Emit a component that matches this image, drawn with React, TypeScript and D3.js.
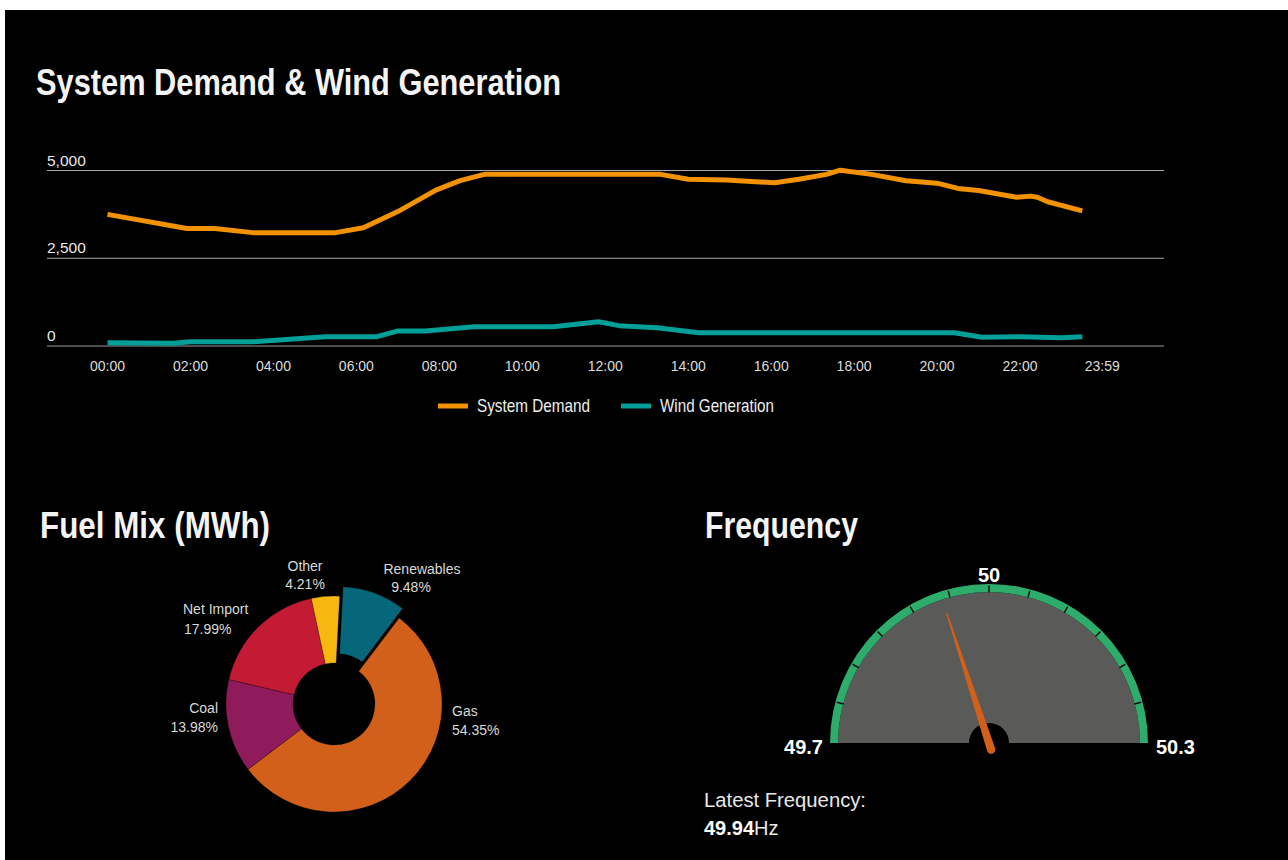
import React from "react";
import * as d3 from "d3";

// ---------- DATA ----------
const demandTimes = ["00:00","01:55","02:35","03:30","05:30","06:10","07:00","07:55","08:30","09:05","13:20","14:00","14:55","16:05","16:40","17:20","17:40","18:25","19:15","20:00","20:30","21:00","21:55","22:15","22:25","22:40","23:30"];
const demandValues = [3750,3350,3350,3230,3230,3370,3830,4440,4710,4890,4890,4750,4730,4650,4750,4890,5010,4890,4710,4640,4490,4430,4240,4270,4240,4110,3850];

const windTimes = ["00:00","01:35","02:00","03:30","05:15","06:30","07:00","07:40","08:50","10:45","11:50","12:20","13:15","14:15","20:25","21:05","22:00","23:00","23:30"];
const windValues = [90,80,120,120,265,265,430,430,550,550,690,580,520,380,380,250,265,235,265];

const xTickLabels = ["00:00","02:00","04:00","06:00","08:00","10:00","12:00","14:00","16:00","18:00","20:00","22:00","23:59"];
const yTickValues = [0, 2500, 5000];
const seriesNames = ["System Demand", "Wind Generation"];

const fuelNames = ["Renewables", "Gas", "Coal", "Net Import", "Other"];
const fuelShares = [9.48, 54.35, 13.98, 17.99, 4.21];
const fuelColors = ["#07677a", "#d2601a", "#8f1a5c", "#c41b35", "#f6b80f"];

const freqMin = 49.7;
const freqMax = 50.3;
const freqMid = 50;
const freqStep = 0.05;
const freqLatest = 49.94;

// ---------- STYLE / LAYOUT ----------
const SANS = "'Liberation Sans', Arial, Helvetica, sans-serif";
const C_DEMAND = "#f39200";
const C_WIND = "#009f98";

const toHours = (t: string) => {
  const [h, m] = t.split(":").map(Number);
  return h + m / 60;
};

// pie label layout relative to pie center: [dx, dy] for line1 and line2, anchor
const PIE_LABELS: Record<string, { a: string; l1: [number, number]; l2: [number, number] }> = {
  Renewables: { a: "middle", l1: [88, -130], l2: [77, -112] },
  Gas: { a: "start", l1: [118, 12], l2: [118, 31] },
  Coal: { a: "end", l1: [-116, 9], l2: [-116, 28] },
  "Net Import": { a: "start", l1: [-151, -90], l2: [-150, -70] },
  Other: { a: "middle", l1: [-29, -133], l2: [-29, -115] },
};

// condensed bold heading: Liberation Sans squeezed to the measured width
function Heading({ x, y, w, children }: { x: number; y: number; w: number; children: string }) {
  return (
    <text
      x={x}
      y={y}
      fill="#f4f4f4"
      fontFamily={SANS}
      fontWeight="bold"
      fontSize={37}
      textLength={w}
      lengthAdjust="spacingAndGlyphs"
    >
      {children}
    </text>
  );
}

export default function App() {
  // line chart
  const x = d3.scaleLinear().domain([0, 24]).range([107.5, 107.5 + 24 * 41.48]);
  const y = d3.scaleLinear().domain([0, 5000]).range([346, 170.5]);
  const line = d3
    .line<[number, number]>()
    .x((d) => x(d[0]))
    .y((d) => y(d[1]));
  const demandPts: [number, number][] = demandTimes.map((t, i) => [toHours(t), demandValues[i]]);
  const windPts: [number, number][] = windTimes.map((t, i) => [toHours(t), windValues[i]]);

  // pie
  const pcx = 334, pcy = 704, rOut = 108, rIn = 41;
  const a0 = (3 * Math.PI) / 180;
  const pie = d3.pie<number>().sort(null).startAngle(a0).endAngle(a0 + 2 * Math.PI);
  const arcs = pie(fuelShares);
  const arcGen = d3.arc<d3.PieArcDatum<number>>().innerRadius(rIn).outerRadius(rOut);

  // gauge
  const gcx = 989, gcy = 743, gR = 159, gBand = 8;
  const ang = d3.scaleLinear().domain([freqMin, freqMax]).range([-90, 90]);
  const bandArc = d3.arc()({ innerRadius: gR - gBand, outerRadius: gR, startAngle: -Math.PI / 2, endAngle: Math.PI / 2 } as any) as string;
  const faceArc = d3.arc()({ innerRadius: 0, outerRadius: gR - gBand, startAngle: -Math.PI / 2, endAngle: Math.PI / 2 } as any) as string;
  const hubArc = d3.arc()({ innerRadius: 0, outerRadius: 20, startAngle: -Math.PI / 2, endAngle: Math.PI / 2 } as any) as string;
  const tickVals = d3.range(1, Math.round((freqMax - freqMin) / freqStep)).map((k) => freqMin + k * freqStep);
  const needleLen = 137;

  const legendItems = [
    { name: seriesNames[0], color: C_DEMAND, x: 438, w: 113 },
    { name: seriesNames[1], color: C_WIND, x: 621, w: 114 },
  ];

  return (
    <svg
      width={1288}
      height={860}
      style={{ position: "absolute", left: 0, top: 0, display: "block" }}
    >
      <rect x={0} y={0} width={1288} height={860} fill="#ffffff" />
      <rect x={5} y={10} width={1283} height={850} fill="#000000" />

      {/* ---------- Line chart ---------- */}
      <Heading x={36} y={95} w={525}>System Demand &amp; Wind Generation</Heading>

      {yTickValues.map((v) => (
        <g key={v}>
          <line
            x1={47}
            x2={1164}
            y1={y(v)}
            y2={y(v)}
            stroke={v === 0 ? "#666" : "#a8a8a8"}
            strokeWidth={v === 0 ? 1.6 : 1}
          />
          <text x={47} y={y(v) - 5} fill="#e8e8e8" fontFamily={SANS} fontSize={15.5}>
            {d3.format(",")(v)}
          </text>
        </g>
      ))}

      {xTickLabels.map((t) => (
        <text
          key={t}
          x={x(toHours(t))}
          y={370.5}
          textAnchor="middle"
          fill="#dcdcdc"
          fontFamily={SANS}
          fontSize={14}
        >
          {t}
        </text>
      ))}

      <path d={line(demandPts) || ""} fill="none" stroke={C_DEMAND} strokeWidth={5} strokeLinejoin="round" />
      <path d={line(windPts) || ""} fill="none" stroke={C_WIND} strokeWidth={5} strokeLinejoin="round" />

      {/* legend */}
      {legendItems.map((it) => (
        <g key={it.name}>
          <rect x={it.x} y={403.5} width={30} height={5} fill={it.color} />
          <text
            x={it.x + 39}
            y={411.5}
            fill="#eeeeee"
            fontFamily={SANS}
            fontSize={19}
            textLength={it.w}
            lengthAdjust="spacingAndGlyphs"
          >
            {it.name}
          </text>
        </g>
      ))}

      {/* ---------- Fuel mix ---------- */}
      <Heading x={40} y={538} w={230}>Fuel Mix (MWh)</Heading>
      <g transform={`translate(${pcx},${pcy})`}>
        {arcs.map((a, i) => {
          const mid = (a.startAngle + a.endAngle) / 2;
          const off = fuelNames[i] === "Renewables" ? 10 : 0;
          return (
            <path
              key={fuelNames[i]}
              d={arcGen(a) || ""}
              fill={fuelColors[i]}
              stroke="#000"
              strokeOpacity={0.35}
              strokeWidth={0.7}
              transform={`translate(${off * Math.sin(mid)},${-off * Math.cos(mid)})`}
            />
          );
        })}
        {arcs.map((a, i) => {
          const L = PIE_LABELS[fuelNames[i]];
          return (
            <g key={"lbl" + i} fill="#d9d9d9" fontFamily={SANS} fontSize={14} textAnchor={L.a}>
              <text x={L.l1[0]} y={L.l1[1]}>{fuelNames[i]}</text>
              <text x={L.l2[0]} y={L.l2[1]}>{fuelShares[i].toFixed(2)}%</text>
            </g>
          );
        })}
      </g>

      {/* ---------- Frequency ---------- */}
      <Heading x={705} y={538} w={153}>Frequency</Heading>
      <g transform={`translate(${gcx},${gcy})`}>
        <path d={faceArc} fill="#5a5a58" />
        <path d={bandArc} fill="#2eac6b" />
        {tickVals.map((v) => {
          const r = (ang(v) * Math.PI) / 180;
          const s = Math.sin(r), c = Math.cos(r);
          return (
            <line
              key={v}
              x1={(gR - gBand - 0.5) * s}
              y1={-(gR - gBand - 0.5) * c}
              x2={(gR - 1.5) * s}
              y2={-(gR - 1.5) * c}
              stroke="#111"
              strokeWidth={1.5}
            />
          );
        })}
        <path d={hubArc} fill="#000" />
        <path
          d={`M -4.2 7 L -0.6 ${-needleLen} L 0.6 ${-needleLen} L 4.2 7 A 4.2 4.2 0 0 1 -4.2 7 Z`}
          fill="#d3601a"
          transform={`rotate(${ang(freqLatest)})`}
        />
        <text x={-gR - 7} y={11} textAnchor="end" fill="#fff" fontFamily={SANS} fontWeight="bold" fontSize={20}>
          {freqMin}
        </text>
        <text x={gR + 8} y={11} textAnchor="start" fill="#fff" fontFamily={SANS} fontWeight="bold" fontSize={20}>
          {freqMax}
        </text>
        <text x={0} y={-gR - 2} textAnchor="middle" fill="#fff" fontFamily={SANS} fontWeight="bold" fontSize={20}>
          {freqMid}
        </text>
      </g>
      <text x={704} y={807} fill="#e8e8e8" fontFamily={SANS} fontSize={19.5} textLength={162} lengthAdjust="spacingAndGlyphs">
        Latest Frequency:
      </text>
      <text x={704} y={835} fill="#ffffff" fontFamily={SANS} fontSize={20}>
        <tspan fontWeight="bold">{freqLatest.toFixed(2)}</tspan>
        <tspan fill="#e8e8e8">Hz</tspan>
      </text>
    </svg>
  );
}
